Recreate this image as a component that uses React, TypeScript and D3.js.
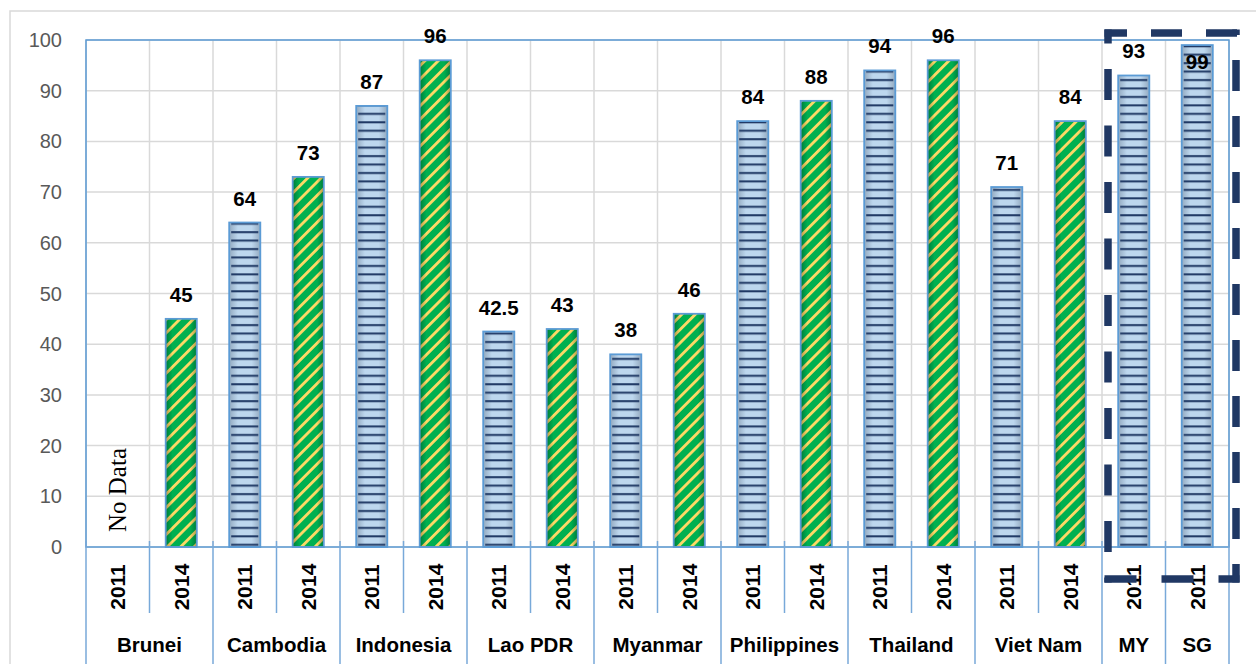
import React from "react";
import * as d3 from "d3";

const countries = ["Brunei", "Cambodia", "Indonesia", "Lao PDR", "Myanmar", "Philippines", "Thailand", "Viet Nam", "MY", "SG"];
const years = [
  ["2011", "2014"], ["2011", "2014"], ["2011", "2014"], ["2011", "2014"],
  ["2011", "2014"], ["2011", "2014"], ["2011", "2014"], ["2011", "2014"],
  ["2011"], ["2011"],
];
const values: (number | null)[][] = [
  [null, 45], [64, 73], [87, 96], [42.5, 43], [38, 46],
  [84, 88], [94, 96], [71, 84], [93], [99],
];
const yTicks = [0, 10, 20, 30, 40, 50, 60, 70, 80, 90, 100];
const noDataText = "No Data";

const W = 1256, H = 664;
const plot = { left: 86, right: 1229, top: 40, bottom: 547 };

type Slot = { id: string; country: string; ci: number; year: string; value: number | null };
const slots: Slot[] = [];
countries.forEach((c, ci) => {
  years[ci].forEach((yr, yi) => {
    slots.push({ id: `${c}-${yr}`, country: c, ci, year: yr, value: values[ci][yi] });
  });
});

export default function App() {
  const x = d3.scaleBand<string>().domain(slots.map((s) => s.id)).range([plot.left, plot.right]).padding(0);
  const y = d3.scaleLinear().domain([0, 100]).range([plot.bottom, plot.top]);
  const bw = x.bandwidth();
  const barW = bw * 0.49;
  const font = "'Liberation Sans', Arial, sans-serif";
  const axisBlue = "#78a9d9";
  const borderBlue = "#5b9bd5";
  const grid = "#d9d9d9";

  const boundaries = d3.range(slots.length + 1).map((i) => plot.left + i * bw);
  const countryBounds = new Set<number>();
  let idx = 0;
  countryBounds.add(0);
  years.forEach((ys) => { idx += ys.length; countryBounds.add(idx); });

  const navy = "#203864";
  return (
    <div style={{ position: "absolute", left: 0, top: 0 }}>
      <svg width={W} height={H} style={{ display: "block", background: "#fff" }}>
        <defs>
          <pattern id="hlines" width={10} height={8.45} patternUnits="userSpaceOnUse">
            <rect x={0} y={3} width={10} height={2} fill="#1f3864" />
          </pattern>
          <pattern id="stripes" width={9.5} height={10} patternUnits="userSpaceOnUse" patternTransform="rotate(45)">
            <rect x={0} y={0} width={9.5} height={10} fill="#00b050" />
            <rect x={0} y={0} width={2.8} height={10} fill="#ffd966" />
          </pattern>
          <linearGradient id="blueShade" x1="0" x2="1" y1="0" y2="0">
            <stop offset="0%" stopColor="#93a9bf" />
            <stop offset="28%" stopColor="#bdd7ee" />
            <stop offset="72%" stopColor="#bdd7ee" />
            <stop offset="100%" stopColor="#93a9bf" />
          </linearGradient>
          <linearGradient id="edgeShade" x1="0" x2="1" y1="0" y2="0">
            <stop offset="0%" stopColor="#000" stopOpacity={0.3} />
            <stop offset="22%" stopColor="#000" stopOpacity={0} />
            <stop offset="78%" stopColor="#000" stopOpacity={0} />
            <stop offset="100%" stopColor="#000" stopOpacity={0.3} />
          </linearGradient>
        </defs>

        {/* outer chart border */}
        <rect x={10} y={11} width={1270} height={700} fill="none" stroke={grid} strokeWidth={1.5} />

        {/* horizontal grid */}
        {yTicks.map((t) => (
          <line key={`h${t}`} x1={plot.left} x2={plot.right} y1={y(t)} y2={y(t)} stroke={grid} strokeWidth={1.5} />
        ))}
        {/* vertical grid */}
        {boundaries.map((bx, i) => (
          <line key={`v${i}`} x1={bx} x2={bx} y1={plot.top} y2={plot.bottom} stroke={grid} strokeWidth={1.5} />
        ))}

        {/* y tick labels */}
        {yTicks.map((t) => (
          <text key={`yt${t}`} x={62} y={y(t) + 7} textAnchor="end" fontFamily={font} fontSize={20} fill="#595959">{t}</text>
        ))}

        {/* No Data */}
        <text
          transform={`translate(${(x(slots[0].id) as number) + bw / 2 + 8},${plot.bottom - 15}) rotate(-90)`}
          fontFamily="'Liberation Serif', 'Times New Roman', serif"
          fontSize={25}
          fill="#000"
        >{noDataText}</text>

        {/* bars */}
        {slots.map((s) => {
          if (s.value == null) return null;
          const bx = (x(s.id) as number) + (bw - barW) / 2;
          const by = y(s.value);
          const bh = plot.bottom - by;
          const is2014 = s.year === "2014";
          return (
            <g key={s.id}>
              {is2014 ? (
                <>
                  <rect x={bx} y={by} width={barW} height={bh} fill="url(#stripes)" />
                  <rect x={bx} y={by} width={barW} height={bh} fill="url(#edgeShade)" />
                </>
              ) : (
                <>
                  <rect x={bx} y={by} width={barW} height={bh} fill="url(#blueShade)" />
                  <rect x={bx + 2} y={by} width={barW - 4} height={bh} fill="url(#hlines)" />
                </>
              )}
              <rect x={bx} y={by} width={barW} height={bh} fill="none" stroke={borderBlue} strokeWidth={1.8} />
            </g>
          );
        })}

        {/* plot border */}
        <rect x={plot.left} y={plot.top} width={plot.right - plot.left} height={plot.bottom - plot.top} fill="none" stroke={borderBlue} strokeWidth={1.5} />

        {/* value labels */}
        {slots.map((s) => {
          if (s.value == null) return null;
          const cx = (x(s.id) as number) + bw / 2;
          const top = y(s.value);
          const ly = s.value > 97 ? top + 24 : top - 17;
          return (
            <text key={`l${s.id}`} x={cx} y={ly} textAnchor="middle" fontFamily={font} fontWeight="bold" fontSize={20.5} fill="#000">{s.value}</text>
          );
        })}

        {/* category axis separators */}
        {boundaries.map((bx, i) => {
          const isCountry = countryBounds.has(i);
          return (
            <line key={`s${i}`} x1={bx} x2={bx} y1={plot.bottom - 6} y2={isCountry ? 664 : 613} stroke={axisBlue} strokeWidth={1.5} />
          );
        })}

        {/* year labels */}
        {slots.map((s) => (
          <text
            key={`y${s.id}`}
            transform={`translate(${(x(s.id) as number) + bw / 2},${587}) rotate(-90)`}
            textAnchor="middle"
            dominantBaseline="central"
            fontFamily={font}
            fontWeight="bold"
            fontSize={21}
            fill="#000"
          >{s.year}</text>
        ))}

        {/* country labels */}
        {countries.map((c, ci) => {
          const cs = slots.filter((s) => s.ci === ci);
          const x0 = x(cs[0].id) as number;
          const x1 = (x(cs[cs.length - 1].id) as number) + bw;
          return (
            <text key={`c${c}`} x={(x0 + x1) / 2} y={652} textAnchor="middle" fontFamily={font} fontWeight="bold" fontSize={20.5} fill="#000">{c}</text>
          );
        })}

        {/* dashed highlight box */}
        <g stroke={navy} strokeWidth={7.5} fill="none">
          <line x1={1108} x2={1108} y1={29.5} y2={582.5} strokeDasharray="31 25.5" strokeDashoffset={17} />
          <line x1={1104.5} x2={1239.5} y1={33} y2={33} strokeDasharray="31 24" strokeDashoffset={8.5} />
          <line x1={1236} x2={1236} y1={29.5} y2={582.5} strokeDasharray="31 25" strokeDashoffset={25.5} />
          <line x1={1104.5} x2={1239.5} y1={579} y2={579} strokeDasharray="32 25" strokeDashoffset={0} />
        </g>
      </svg>
    </div>
  );
}
